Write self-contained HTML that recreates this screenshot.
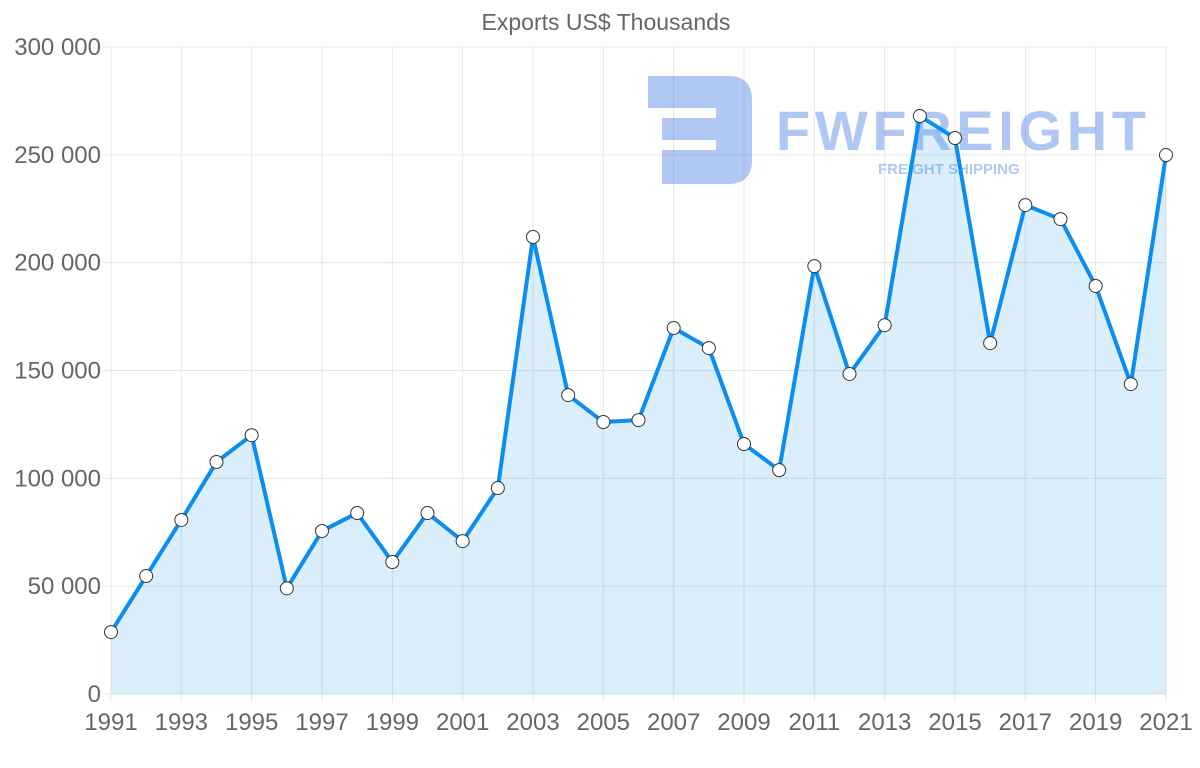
<!DOCTYPE html>
<html><head><meta charset="utf-8"><style>
body{margin:0;background:#fff;}
svg text{font-family:"Liberation Sans",sans-serif;}
</style></head><body>
<svg id="chart" width="1200" height="763" xmlns="http://www.w3.org/2000/svg">
<text x="606" y="30" text-anchor="middle" font-size="23" fill="#666">Exports US$ Thousands</text>
<g id="grid"></g>
<g opacity="0.38">
<path d="M648 76 H728 Q752 76 752 100 V160 Q752 184 728 184 H662 V150 H716 V140 H662 V118 H716 V108 H648 Z" fill="#2f6fe0"/>
<text x="776" y="150" font-size="56" font-weight="bold" fill="#2f6fe0" textLength="370">FWFREIGHT</text>
<text x="878" y="174" font-size="15" font-weight="bold" fill="#2f6fe0" font-family="Liberation Serif">FREIGHT SHIPPING</text>
</g>
<g id="series"></g>
<g id="labels"></g>
</svg>
<script>
const years=[1991,1992,1993,1994,1995,1996,1997,1998,1999,2000,2001,2002,2003,2004,2005,2006,2007,2008,2009,2010,2011,2012,2013,2014,2015,2016,2017,2018,2019,2020,2021];
const exportsK=[28.7,54.7,80.7,107.6,120,49,75.6,83.9,61.2,83.9,70.9,95.5,211.9,138.6,126.1,127,169.7,160.4,115.9,103.8,198.4,148.4,171,268,257.8,162.7,226.7,220.2,189.2,143.7,249.9];
const yTicks=[0,50,100,150,200,250,300];
const yTickLabels=["0","50 000","100 000","150 000","200 000","250 000","300 000"];
const NS="http://www.w3.org/2000/svg";
const L=111,R=1166,T=47,B=694;
const x=i=>L+(R-L)*i/(years.length-1);
const y=v=>B-(B-T)*v/300;
function mk(t,a,p){const e=document.createElementNS(NS,t);for(const k in a)e.setAttribute(k,a[k]);p.appendChild(e);return e;}
const grid=document.getElementById('grid'),lab=document.getElementById('labels'),ser=document.getElementById('series');
years.forEach((yr,i)=>{
 if(i%2==0){
 const g=mk('line',{x1:x(i),x2:x(i),y1:T,y2:B+8,stroke:'#e6e6e6'},grid);
 
 
 const t=mk('text',{x:x(i),y:730,'text-anchor':'middle','font-size':24,fill:'#666'},lab);t.textContent=yr;
 
 }
});
yTicks.forEach((v,i)=>{
 const g=mk('line',{x1:L-8,x2:R,y1:y(v),y2:y(v),stroke:'#e6e6e6'},grid);
 
 
 const t=mk('text',{x:101,y:y(v)+8,'text-anchor':'end','font-size':24,fill:'#666'},lab);t.textContent=yTickLabels[i];
 
 
});
let d=exportsK.map((v,i)=>(i?'L':'M')+x(i)+' '+y(v)).join(' ');
const area=mk('path',{d:d+` L${x(years.length-1)} ${B} L${L} ${B} Z`,fill:'rgba(54,162,235,0.18)'},ser);


const line=mk('path',{d:d,fill:'none',stroke:'#0a8ef2','stroke-width':4,'stroke-linejoin':'round'},ser);


exportsK.forEach((v,i)=>{
 const c=mk('circle',{cx:x(i),cy:y(v),r:6.5,fill:'#fff',stroke:'#333','stroke-width':1},ser);
 
 
});
</script>
</body></html>
